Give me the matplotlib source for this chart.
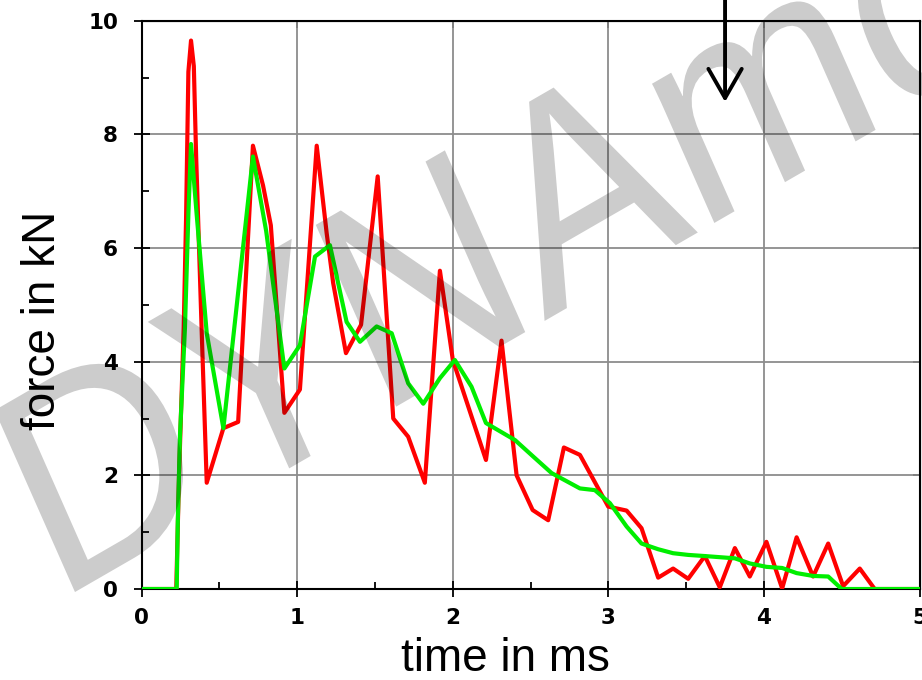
import matplotlib
matplotlib.use('Agg')
from matplotlib import pyplot as plt
from matplotlib.textpath import TextPath
from matplotlib.patches import PathPatch
from matplotlib.font_manager import FontProperties
import matplotlib.transforms as mtransforms

# measured force (red) and filtered force (green), time in ms, force in kN
red_t = [0, 0.222, 0.24, 0.27, 0.285, 0.30, 0.317, 0.335, 0.35, 0.386, 0.418,
         0.525, 0.62, 0.715, 0.78, 0.83, 0.917, 1.017, 1.125, 1.189, 1.231,
         1.313, 1.41, 1.517, 1.617, 1.713, 1.82, 1.917, 2.0, 2.213, 2.313,
         2.41, 2.513, 2.613, 2.714, 2.817, 2.999, 3.117, 3.213, 3.32, 3.416,
         3.513, 3.62, 3.716, 3.813, 3.909, 4.016, 4.117, 4.21, 4.316, 4.413,
         4.509, 4.616, 4.712, 5.0]
red_f = [0, 0, 2.0, 4.6, 6.5, 9.1, 9.65, 9.2, 7.6, 4.5, 1.87,
         2.83, 2.94, 7.8, 7.1, 6.4, 3.1, 3.51, 7.8, 6.26, 5.38,
         4.15, 4.65, 7.26, 3.0, 2.68, 1.87, 5.6, 4.03, 2.27, 4.37,
         2.0, 1.39, 1.21, 2.49, 2.36, 1.45, 1.38, 1.07, 0.2, 0.36,
         0.18, 0.58, 0.03, 0.72, 0.22, 0.83, 0.01, 0.91, 0.22, 0.80,
         0.05, 0.36, 0.0, 0.0]

green_t = [0, 0.225, 0.232, 0.246, 0.278, 0.30, 0.317, 0.353, 0.418, 0.525,
           0.715, 0.80, 0.917, 1.017, 1.114, 1.21, 1.317, 1.403, 1.51, 1.607,
           1.713, 1.81, 1.917, 2.013, 2.12, 2.213, 2.4, 2.517, 2.635, 2.817,
           2.913, 3.01, 3.117, 3.213, 3.32, 3.416, 3.513, 3.62, 3.813, 3.909,
           4.016, 4.117, 4.21, 4.316, 4.413, 4.50, 5.0]
green_f = [0, 0, 1.2, 2.7, 4.6, 6.6, 7.83, 6.6, 4.5, 2.83,
           7.61, 6.3, 3.88, 4.29, 5.85, 6.05, 4.7, 4.35, 4.62, 4.5,
           3.62, 3.26, 3.71, 4.03, 3.56, 2.92, 2.62, 2.33, 2.04, 1.77,
           1.74, 1.51, 1.10, 0.80, 0.70, 0.63, 0.60, 0.58, 0.54, 0.45,
           0.39, 0.37, 0.28, 0.23, 0.22, 0.0, 0.0]

x_ticks = [0, 1, 2, 3, 4, 5]
y_ticks = [0, 2, 4, 6, 8, 10]
arrow_t = 3.75
arrow_tip = 8.57

fig = plt.figure(figsize=(9.22, 6.8), dpi=100)
ax = fig.add_axes([0.1537, 0.1338, 0.9973 - 0.1537, 0.9696 - 0.1338])

ax.plot(red_t, red_f, color='#ff0000', lw=3, zorder=3)
ax.plot(green_t, green_f, color='#00ee00', lw=3, zorder=4)

ax.set_xlim(0, 5)
ax.set_ylim(0, 10)
ax.set_xticks(x_ticks)
ax.set_yticks(y_ticks)
ax.set_xticks([0.5, 1.5, 2.5, 3.5, 4.5], minor=True)
ax.set_yticks([1, 3, 5, 7, 9], minor=True)
ax.grid(True, which='major', color='#8c8c8c', lw=1.3)
ax.set_axisbelow(True)
ax.tick_params(which='major', direction='inout', length=11, width=1.3,
               labelsize=15.5)
ax.tick_params(axis='x', which='major', pad=8.5)
ax.tick_params(axis='y', which='major', pad=11.5)
ax.tick_params(which='minor', direction='in', length=5, width=1.3)
for lab in ax.get_xticklabels() + ax.get_yticklabels():
    lab.set_fontweight('bold')
for sp in ax.spines.values():
    sp.set_linewidth(1.5)

top = ax.secondary_xaxis('top')
top.set_xticks(x_ticks)
top.tick_params(direction='in', length=5, width=1.3, labeltop=False)
right = ax.secondary_yaxis('right')
right.set_yticks(y_ticks)
right.tick_params(direction='in', length=5, width=1.3, labelright=False)

ax.set_xlabel('time in ms', family='Liberation Sans', fontsize=33)
ax.set_ylabel('force in kN', family='Liberation Sans', fontsize=33)
ax.xaxis.set_label_coords(0.467, -0.085)
ax.yaxis.set_label_coords(-0.099, 0.472)

ax.annotate('', xy=(arrow_t, arrow_tip), xytext=(arrow_t, 10.6),
            annotation_clip=False,
            arrowprops=dict(arrowstyle='->,head_length=2.1,head_width=1.2',
                            lw=2.8, color='black', shrinkA=0, shrinkB=0))

# watermark, slightly squeezed horizontally
wm = TextPath((0, 0), 'DYNAmore', size=296,
              prop=FontProperties(family='Liberation Sans'))
tr = mtransforms.Affine2D().rotate_deg(26.8).scale(0.875, 1).translate(56, 77)
patch = PathPatch(wm, facecolor='black', edgecolor='none', alpha=0.2,
                  transform=tr, zorder=10)
fig.add_artist(patch)

fig.savefig('out.png', dpi=100)
